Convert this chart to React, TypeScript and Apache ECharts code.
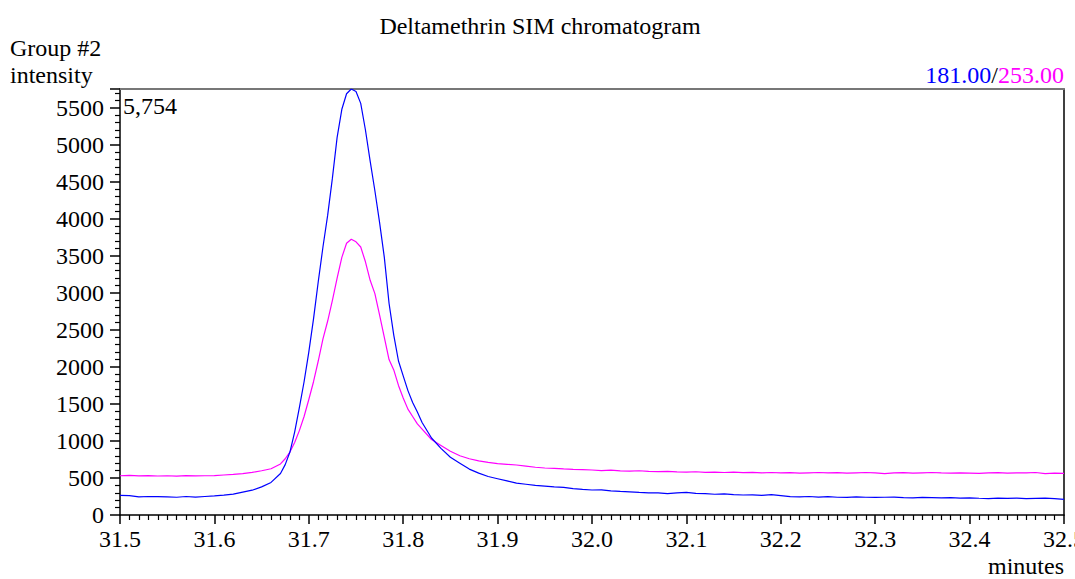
import React, { useEffect, useRef } from "react";
import * as echarts from "echarts";

const times = [
  31.5, 31.51, 31.52, 31.53, 31.54, 31.55, 31.56, 31.57, 31.58, 31.59,
  31.6, 31.61, 31.62, 31.63, 31.64, 31.65, 31.66, 31.67, 31.675, 31.68,
  31.685, 31.69, 31.695, 31.7, 31.705, 31.71, 31.715, 31.72, 31.725, 31.73,
  31.735, 31.74, 31.745, 31.75, 31.755, 31.76, 31.765, 31.77, 31.775, 31.78,
  31.785, 31.79, 31.795, 31.8, 31.805, 31.81, 31.815, 31.82, 31.83, 31.84,
  31.85, 31.86, 31.87, 31.88, 31.89, 31.9, 31.91, 31.92, 31.93, 31.94,
  31.95, 31.96, 31.97, 31.98, 31.99, 32.0, 32.01, 32.02, 32.03, 32.04,
  32.05, 32.06, 32.07, 32.08, 32.09, 32.1, 32.11, 32.12, 32.13, 32.14,
  32.15, 32.16, 32.17, 32.18, 32.19, 32.2, 32.21, 32.22, 32.23, 32.24,
  32.25, 32.26, 32.27, 32.28, 32.29, 32.3, 32.31, 32.32, 32.33, 32.34,
  32.35, 32.36, 32.37, 32.38, 32.39, 32.4, 32.41, 32.42, 32.43, 32.44,
  32.45, 32.46, 32.47, 32.48, 32.49, 32.5,
];

const ion181 = [
  265, 262, 245, 250, 248, 245, 240, 250, 242, 250,
  258, 268, 282, 310, 335, 380, 440, 560, 680, 850,
  1120, 1450, 1800, 2200, 2650, 3150, 3620, 4050, 4550, 5100,
  5480, 5690, 5754, 5720, 5560, 5200, 4780, 4380, 3950, 3480,
  2860, 2430, 2080, 1880, 1680, 1520, 1390, 1250, 1040, 900,
  780, 700, 620, 565, 520, 490, 460, 430, 415, 400,
  390, 380, 372, 355, 345, 338, 340, 325, 318, 312,
  305, 300, 298, 290, 300, 305, 292, 288, 280, 285,
  275, 270, 272, 265, 275, 262, 248, 245, 250, 242,
  248, 240, 238, 245, 240, 238, 240, 242, 236, 232,
  238, 235, 230, 234, 228, 232, 226, 222, 228, 225,
  228, 222, 225, 228, 220, 210,
];

const ion253 = [
  530, 535, 528, 532, 527, 530, 525, 532, 528, 530,
  532, 540, 548, 560, 575, 598, 625, 690, 760, 850,
  980, 1140, 1330, 1560, 1800, 2080, 2380, 2620, 2900, 3200,
  3480, 3670, 3725, 3690, 3620, 3420, 3170, 2990, 2700, 2400,
  2100, 1960, 1750, 1580, 1430, 1330, 1230, 1160, 1020, 940,
  860, 800, 760, 730, 710, 695, 685, 675, 660, 645,
  635, 630, 622, 615, 612, 608, 600, 605, 595, 592,
  598, 588, 585, 590, 582, 580, 584, 576, 580, 574,
  578, 572, 575, 570, 574, 568, 572, 566, 570, 574,
  568, 572, 566, 570, 574, 568, 560, 570, 572, 566,
  570, 574, 568, 565, 570, 566, 562, 568, 572, 566,
  570, 568, 574, 560, 566, 562,
];

const yTicks = [0, 500, 1000, 1500, 2000, 2500, 3000, 3500, 4000, 4500, 5000, 5500];
const peakLabel = "5,754";
const yMax = 5754;

const FONT = "Liberation Serif";

export default function App() {
  const ref = useRef<HTMLDivElement>(null);
  useEffect(() => {
    document.body.style.margin = "0";
    const chart = echarts.init(ref.current!, null, { renderer: "svg" });
    const pair = (vals: number[]) => times.map((t, i) => [t, vals[i]]);
    chart.setOption({
      animation: false,
      backgroundColor: "#ffffff",
      title: {
        text: "Deltamethrin SIM chromatogram",
        left: 535,
        textAlign: "center",
        top: 9,
        textStyle: { fontFamily: FONT, fontSize: 24, fontWeight: "normal", color: "#000" },
      },
      grid: { left: 120, right: 11, top: 89, bottom: 64, outerBoundsMode: "none", containLabel: false },
      xAxis: [
        {
          type: "value",
          min: 31.5,
          max: 32.5,
          interval: 0.1,
          axisLine: { show: true, onZero: false, lineStyle: { color: "#000", width: 1.5 } },
          axisTick: { show: true, length: 9, lineStyle: { color: "#000", width: 1.5 } },
          minorTick: { show: true, splitNumber: 10, length: 5, lineStyle: { color: "#000", width: 1.2 } },
          splitLine: { show: false },
          axisLabel: {
            fontFamily: FONT,
            fontSize: 24,
            color: "#000",
            margin: 12,
            showMaxLabel: true,
            formatter: (v: number) => v.toFixed(1),
          },
        },
        {
          type: "value",
          position: "top",
          min: 0,
          max: 1,
          axisLine: { show: true, onZero: false, lineStyle: { color: "#777", width: 2 } },
          axisTick: { show: false },
          axisLabel: { show: false },
          splitLine: { show: false },
        },
      ],
      yAxis: [
        {
          type: "value",
          min: 0,
          max: yMax,
          interval: 500,
          axisLine: { show: true, onZero: false, lineStyle: { color: "#000", width: 1.5 } },
          axisTick: { show: true, length: 10, lineStyle: { color: "#000", width: 1.5 } },
          minorTick: { show: true, splitNumber: 5, length: 5, lineStyle: { color: "#000", width: 1.2 } },
          splitLine: { show: false },
          axisLabel: {
            fontFamily: FONT,
            fontSize: 24,
            color: "#000",
            margin: 16,
            showMaxLabel: false,
            formatter: (v: number) => (yTicks.includes(v) ? String(v) : ""),
          },
        },
        {
          type: "value",
          position: "right",
          min: 0,
          max: 1,
          axisLine: { show: true, onZero: false, lineStyle: { color: "#000", width: 1.5 } },
          axisTick: { show: false },
          axisLabel: { show: false },
          splitLine: { show: false },
        },
      ],
      graphic: [
        { type: "text", left: 10, top: 36, style: { text: "Group #2", font: `24px "${FONT}"`, fill: "#000" } },
        { type: "text", left: 10, top: 63, style: { text: "intensity", font: `24px "${FONT}"`, fill: "#000" } },
        {
          type: "text",
          right: 11,
          top: 63,
          style: {
            text: "{b|181.00}{k|/}{m|253.00}",
            font: `24px "${FONT}"`,
            rich: {
              b: { fill: "#0000ff", fontFamily: FONT, fontSize: 24 },
              k: { fill: "#000", fontFamily: FONT, fontSize: 24 },
              m: { fill: "#ff00ff", fontFamily: FONT, fontSize: 24 },
            },
          },
        },
        { type: "text", left: 123, top: 94, style: { text: peakLabel, font: `24px "${FONT}"`, fill: "#000" } },
        { type: "text", right: 11, top: 554, style: { text: "minutes", font: `24px "${FONT}"`, fill: "#000" } },
      ],
      series: [
        {
          name: "253.00",
          type: "line",
          data: pair(ion253),
          showSymbol: false,
          lineStyle: { color: "#ff00ff", width: 1.2 },
          itemStyle: { color: "#ff00ff" },
        },
        {
          name: "181.00",
          type: "line",
          data: pair(ion181),
          showSymbol: false,
          lineStyle: { color: "#0000ff", width: 1.2 },
          itemStyle: { color: "#0000ff" },
        },
      ],
    });
    return () => chart.dispose();
  }, []);
  return <div ref={ref} style={{ width: 1075, height: 579 }} />;
}
